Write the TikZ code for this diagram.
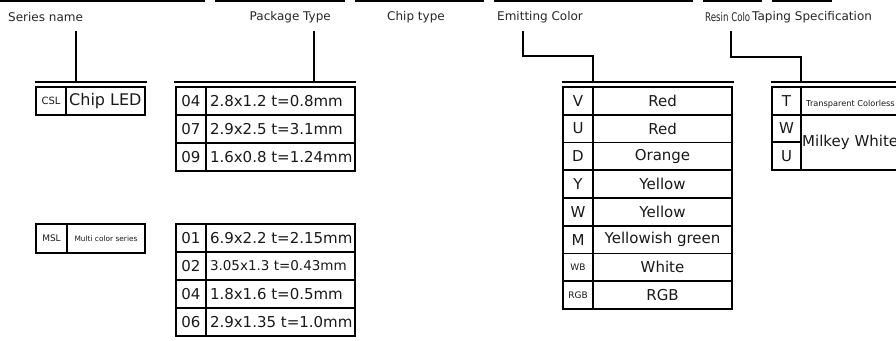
\documentclass[tikz,border=0pt]{standalone}
\usepackage{fontspec}
\setmainfont{DejaVu Sans}
\begin{document}
\begin{tikzpicture}[x=1pt,y=-1pt,
  bar/.style={line width=2pt, line cap=rect},
  conn/.style={line width=2pt},
  hdr/.style={font=\fontsize{12}{14}\selectfont, anchor=west, inner sep=0pt, text=black!85},
  cell/.style={draw, line width=1.6pt, inner ysep=0pt, text=black!90},
  big/.style={font=\fontsize{15}{17}\selectfont},
  code/.style={cell, big, minimum width=30pt, inner xsep=0pt},
  desc/.style={cell, big, minimum width=149pt, inner xsep=0pt},
  col/.style={cell, big, minimum width=139pt, inner xsep=0pt}
]
\useasboundingbox (0,0) rectangle (896,340);

% header rules
\foreach \a/\b in {0/205, 215/345, 355/484, 494/693, 703/762, 772/832}
  \draw[line width=2pt] (\a,1) -- (\b,1);

% header labels
\node[hdr] (lser) at (8,17) {Series name};
\node[hdr, anchor=east] (lpkg) at (331,17) {Package Type};
\node[hdr] (lchip) at (387,17) {Chip type};
\node[hdr] (lemit) at (497,17) {Emitting Color};
\begin{scope}
  \clip (700,5) rectangle (750.5,30);
  \node[hdr] (lres) at (705,17) {\scalebox{0.72}[1]{Resin Color}};
\end{scope}
\node[hdr] (ltap) at (752,17) {Taping Specification};

% connectors
\coordinate (s1) at (76,31);   \coordinate (s2) at (76,82);
\coordinate (p1) at (314,31);  \coordinate (p2) at (314,82);
\coordinate (e1) at (523,31);  \coordinate (e2) at (523,56);
\coordinate (e3) at (593,56);  \coordinate (e4) at (593,82);
\coordinate (r1) at (731,31);  \coordinate (r2) at (731,57);
\coordinate (r3) at (801,57);  \coordinate (r4) at (801,82);
\draw[conn] (s1) -- (s2);
\draw[conn] (p1) -- (p2);
\draw[conn] (e1) -- (e2) -- (e3) -- (e4);
\draw[conn] (r1) -- (r2) -- (r3) -- (r4);

% bars above tables
\coordinate (b1a) at (36,82);  \coordinate (b1b) at (146,82);
\coordinate (b2a) at (175,82); \coordinate (b2b) at (355,82);
\coordinate (b3a) at (563,82); \coordinate (b3b) at (733,82);
\coordinate (b4a) at (772,82); \coordinate (b4b) at (900,82);
\draw[bar] (b1a) -- (b1b);
\draw[bar] (b2a) -- (b2b);
\draw[bar] (b3a) -- (b3b);
\draw[bar] (b4a) -- (b4b);

% CSL box
\node[cell, minimum width=30pt, minimum height=28pt, inner xsep=0pt, font=\fontsize{10}{11}\selectfont] (csl) at (51,101) {CSL};
\node[cell, minimum width=79pt, minimum height=28pt, inner xsep=0pt] (chipbox) at (105.5,101) {};
\node[anchor=west, inner sep=0pt, font=\fontsize{16}{18}\selectfont, text=black!90] (chipled) at (69,101) {Chip LED};

% MSL box
\node[cell, minimum width=31pt, minimum height=29pt, inner xsep=0pt, font=\fontsize{9}{10}\selectfont] (msl) at (51.5,238.5) {MSL};
\node[cell, minimum width=78pt, minimum height=29pt, inner xsep=0pt, font=\fontsize{7.4}{8}\selectfont] (multi) at (106,238.5) {Multi color series};

% package table 1
\foreach \c/\d [count=\i] in {04/{2.8x1.2 t=0.8mm}, 07/{2.9x2.5 t=3.1mm}, 09/{1.6x0.8 t=1.24mm}} {
  \node[code, minimum height=28pt] (pa\i) at (191, {87+28*(\i-0.5)}) {\c};
  \node[desc, minimum height=28pt] (pd\i) at (280.5, {87+28*(\i-0.5)}) {\makebox[141pt][l]{\d}};
}

% package table 2
\foreach \c/\d [count=\i] in {01/{6.9x2.2 t=2.15mm}, 02/{\fontsize{13.5}{16}\selectfont 3.05x1.3 t=0.43mm}, 04/{1.8x1.6 t=0.5mm}, 06/{2.9x1.35 t=1.0mm}} {
  \node[code, minimum height=28pt] (qa\i) at (191, {224+28*(\i-0.5)}) {\c};
  \node[desc, minimum height=28pt] (qd\i) at (280.5, {224+28*(\i-0.5)}) {\makebox[141pt][l]{\d}};
}

% emitting colour table
\foreach \c/\d [count=\i] in {V/Red, U/Red, D/Orange, Y/Yellow, W/Yellow, M/{Yellowish green}, {{\fontsize{9}{10}\selectfont WB}}/White, {{\fontsize{9}{10}\selectfont RGB}}/RGB} {
  \node[code, minimum height=27.75pt] (ec\i) at (578, {87+27.75*(\i-0.5)}) {\c};
  \node[col, minimum height=27.75pt] (en\i) at (662.5, {87+27.75*(\i-0.5)}) {\d};
}

% resin / taping table
\node[code, minimum width=29pt, minimum height=28pt] (rt) at (786.5,101) {T};
\node[code, minimum width=29pt, minimum height=27pt] (rw) at (786.5,128.5) {W};
\node[code, minimum width=29pt, minimum height=28pt] (ru) at (786.5,156) {U};
\node[cell, minimum width=104pt, minimum height=28pt, inner xsep=0pt] (rtd) at (853,101) {};
\node[cell, minimum width=104pt, minimum height=55pt, inner xsep=0pt] (rwd) at (853,142.5) {};
\node[anchor=west, inner sep=0pt, font=\fontsize{8.2}{9}\selectfont, text=black!90] (ttc) at (806,104) {Transparent Colorless};
\node[anchor=west, inner sep=0pt, big, text=black!90] (tmw) at (802,142) {Milkey White};

\end{tikzpicture}
\end{document}
